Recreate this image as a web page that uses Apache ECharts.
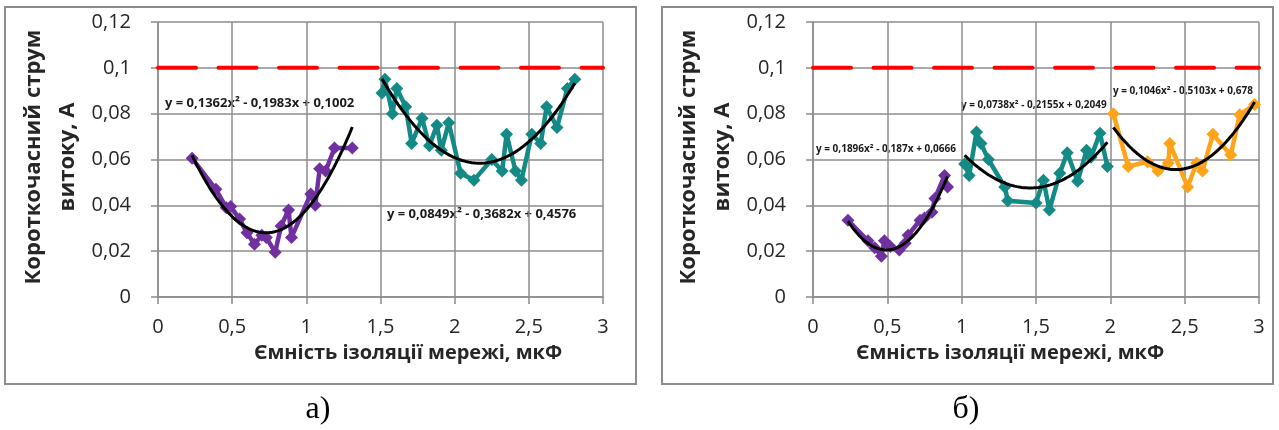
<!DOCTYPE html>
<html>
<head>
<meta charset="utf-8">
<script src="https://cdn.jsdelivr.net/npm/echarts@6/dist/echarts.min.js"></script>
<style>
  html, body { margin: 0; padding: 0; background: #ffffff; }
  #chart { width: 1279px; height: 430px; }
</style>
</head>
<body>
<div id="chart"></div>
<script>
// Capacitance of the network insulation (µF) and short-circuit turn current (A)

// Panel а), first group
const capA1 = [0.23, 0.39, 0.46, 0.49, 0.55, 0.60, 0.65, 0.70, 0.73, 0.79, 0.83, 0.88, 0.90, 1.03, 1.06, 1.09, 1.13, 1.19, 1.31];
const curA1 = [0.0605, 0.047, 0.039, 0.0395, 0.034, 0.028, 0.023, 0.027, 0.026, 0.0195, 0.031, 0.038, 0.026, 0.045, 0.040, 0.056, 0.055, 0.065, 0.065];
// Panel а), second group
const capA2 = [1.51, 1.53, 1.58, 1.61, 1.67, 1.71, 1.78, 1.83, 1.88, 1.91, 1.96, 2.04, 2.13, 2.25, 2.32, 2.35, 2.41, 2.45, 2.52, 2.58, 2.62, 2.69, 2.76, 2.81];
const curA2 = [0.089, 0.095, 0.080, 0.091, 0.083, 0.067, 0.078, 0.066, 0.075, 0.064, 0.076, 0.054, 0.051, 0.060, 0.055, 0.071, 0.055, 0.051, 0.071, 0.067, 0.083, 0.074, 0.091, 0.095];

// Panel б), three groups
const capB1 = [0.235, 0.37, 0.415, 0.46, 0.48, 0.52, 0.58, 0.62, 0.64, 0.72, 0.75, 0.80, 0.82, 0.885, 0.905];
const curB1 = [0.0335, 0.0245, 0.0215, 0.0178, 0.0245, 0.022, 0.0205, 0.0235, 0.027, 0.0335, 0.0345, 0.037, 0.043, 0.053, 0.048];
const capB2 = [1.02, 1.05, 1.10, 1.13, 1.18, 1.29, 1.31, 1.50, 1.55, 1.59, 1.66, 1.71, 1.78, 1.84, 1.87, 1.93, 1.98];
const curB2 = [0.058, 0.053, 0.072, 0.067, 0.060, 0.048, 0.042, 0.041, 0.051, 0.038, 0.054, 0.063, 0.0505, 0.064, 0.061, 0.0715, 0.057];
const capB3 = [2.02, 2.12, 2.25, 2.32, 2.39, 2.40, 2.52, 2.58, 2.62, 2.69, 2.81, 2.87, 2.97];
const curB3 = [0.080, 0.057, 0.059, 0.055, 0.0585, 0.067, 0.048, 0.0585, 0.055, 0.071, 0.062, 0.0795, 0.084];

// Permissible current level
const limitX = [0, 3];
const limitY = [0.1, 0.1];

// Quadratic trend coefficients [a, b, c] for y = a·x² + b·x + c
const fitA1 = [0.1362, -0.1983, 0.1002];
const fitA2 = [0.0849, -0.3682, 0.4576];
const fitB1 = [0.1896, -0.187, 0.0666];
const fitB2 = [0.0738, -0.2155, 0.2049];
const fitB3 = [0.1046, -0.5103, 0.678];

// Trend equation captions
const eqA1 = 'y = 0,1362x² - 0,1983x + 0,1002';
const eqA2 = 'y = 0,0849x² - 0,3682x + 0,4576';
const eqB1 = 'y = 0,1896x² - 0,187x + 0,0666';
const eqB2 = 'y = 0,0738x² - 0,2155x + 0,2049';
const eqB3 = 'y = 0,1046x² - 0,5103x + 0,678';

// Axis tick labels
const xTickLabels = ['0', '0,5', '1', '1,5', '2', '2,5', '3'];
const yTickLabels = ['0', '0,02', '0,04', '0,06', '0,08', '0,1', '0,12'];

const yTitle = 'Короткочасний струм\nвитоку, А';
const xTitle = 'Ємність ізоляції мережі, мкФ';
const panelNames = ['а)', 'б)'];

const COLORS = { purple: '#7030a0', teal: '#138a86', orange: '#ffa31a', red: '#ff0000', trend: '#000000', grid: '#8c8c8c', text: '#262626' };
const FONT = '"Open Sans", "Noto Sans", sans-serif';

function pairs(xs, ys) { return xs.map((x, i) => [x, ys[i]]); }

// Trend curve sampled over the x-range of its group
function trend(coef, xs) {
  const x0 = Math.min(...xs), x1 = Math.max(...xs);
  const n = 60, out = [];
  for (let i = 0; i <= n; i++) {
    const x = x0 + (x1 - x0) * i / n;
    out.push([x, coef[0] * x * x + coef[1] * x + coef[2]]);
  }
  return out;
}

function xAxisFor(gridIndex) {
  return {
    gridIndex, type: 'value', min: 0, max: 3, interval: 0.5,
    axisLine: { show: true, onZero: false, lineStyle: { color: COLORS.grid, width: 1.5 } },
    axisTick: { show: true, inside: false, length: 7, lineStyle: { color: COLORS.grid, width: 1.5 } },
    splitLine: { show: true, lineStyle: { color: COLORS.grid, width: 1.5 } },
    axisLabel: {
      margin: 20, fontFamily: FONT, fontSize: 20, color: COLORS.text,
      formatter: v => xTickLabels[Math.round(v / 0.5)]
    }
  };
}
function yAxisFor(gridIndex) {
  return {
    gridIndex, type: 'value', min: 0, max: 0.12, interval: 0.02,
    axisLine: { show: true, onZero: false, lineStyle: { color: COLORS.grid, width: 1.5 } },
    axisTick: { show: true, inside: false, length: 7, lineStyle: { color: COLORS.grid, width: 1.5 } },
    splitLine: { show: true, lineStyle: { color: COLORS.grid, width: 1.5 } },
    axisLabel: {
      margin: 27, fontFamily: FONT, fontSize: 20, color: COLORS.text,
      formatter: v => yTickLabels[Math.round(v / 0.02)]
    }
  };
}

function limitSeries(idx) {
  return {
    type: 'line', xAxisIndex: idx, yAxisIndex: idx, data: pairs(limitX, limitY),
    symbol: 'none', silent: true, z: 2,
    lineStyle: { color: COLORS.red, width: 4, type: [38, 22.5], cap: 'round' }
  };
}
function dataSeries(idx, xs, ys, color) {
  return {
    type: 'line', xAxisIndex: idx, yAxisIndex: idx, data: pairs(xs, ys),
    symbol: 'diamond', symbolSize: 13, z: 3,
    itemStyle: { color: color },
    lineStyle: { color: color, width: 4.5 }
  };
}
function trendSeries(idx, coef, xs) {
  return {
    type: 'line', xAxisIndex: idx, yAxisIndex: idx, data: trend(coef, xs),
    symbol: 'none', smooth: false, z: 4,
    lineStyle: { color: COLORS.trend, width: 3 }
  };
}

function text(x, y, str, font, extra) {
  return {
    type: 'text', x, y, silent: true,
    style: Object.assign({ text: str, font, fill: COLORS.text, align: 'left', verticalAlign: 'middle' }, extra || {})
  };
}

const chart = echarts.init(document.getElementById('chart'), null, { renderer: 'canvas' });

chart.setOption({
  animation: false,
  backgroundColor: '#ffffff',
  grid: [
    { left: 158, top: 22, width: 445, height: 275 },
    { left: 813, top: 22, width: 446, height: 275 }
  ],
  xAxis: [xAxisFor(0), xAxisFor(1)],
  yAxis: [yAxisFor(0), yAxisFor(1)],
  series: [
    limitSeries(0),
    dataSeries(0, capA1, curA1, COLORS.purple),
    dataSeries(0, capA2, curA2, COLORS.teal),
    trendSeries(0, fitA1, capA1),
    trendSeries(0, fitA2, capA2),
    limitSeries(1),
    dataSeries(1, capB1, curB1, COLORS.purple),
    dataSeries(1, capB2, curB2, COLORS.teal),
    dataSeries(1, capB3, curB3, COLORS.orange),
    trendSeries(1, fitB1, capB1),
    trendSeries(1, fitB2, capB2),
    trendSeries(1, fitB3, capB3)
  ],
  graphic: [
    // panel frames
    { type: 'rect', silent: true, shape: { x: 5, y: 7, width: 631, height: 377 }, style: { fill: null, stroke: COLORS.grid, lineWidth: 2 } },
    { type: 'rect', silent: true, shape: { x: 662, y: 7, width: 611, height: 377 }, style: { fill: null, stroke: COLORS.grid, lineWidth: 2 } },
    // axis titles
    { type: 'text', x: 51, y: 157, rotation: Math.PI / 2, silent: true,
      style: { text: yTitle, font: 'bold 22px ' + FONT, fill: COLORS.text, align: 'center', verticalAlign: 'middle', lineHeight: 34 } },
    { type: 'text', x: 706, y: 157, rotation: Math.PI / 2, silent: true,
      style: { text: yTitle, font: 'bold 22px ' + FONT, fill: COLORS.text, align: 'center', verticalAlign: 'middle', lineHeight: 34 } },
    text(408, 353, xTitle, 'bold 20px ' + FONT, { align: 'center' }),
    text(1010, 353, xTitle, 'bold 20px ' + FONT, { align: 'center' }),
    // trend equations
    text(165, 103, eqA1, 'bold 13px ' + FONT, { fill: '#1a1a1a' }),
    text(387, 214, eqA2, 'bold 13px ' + FONT, { fill: '#1a1a1a' }),
    text(816, 149, eqB1, 'bold 10px ' + FONT, { fill: '#1a1a1a' }),
    text(961, 105, eqB2, 'bold 10px ' + FONT, { fill: '#1a1a1a' }),
    text(1113, 91, eqB3, 'bold 10px ' + FONT, { fill: '#1a1a1a' }),
    // panel captions
    text(318, 410, panelNames[0], '32px "Liberation Serif", "DejaVu Serif", serif', { align: 'center', fill: '#000000' }),
    text(966, 410, panelNames[1], '32px "Liberation Serif", "DejaVu Serif", serif', { align: 'center', fill: '#000000' })
  ]
});
</script>
</body>
</html>
